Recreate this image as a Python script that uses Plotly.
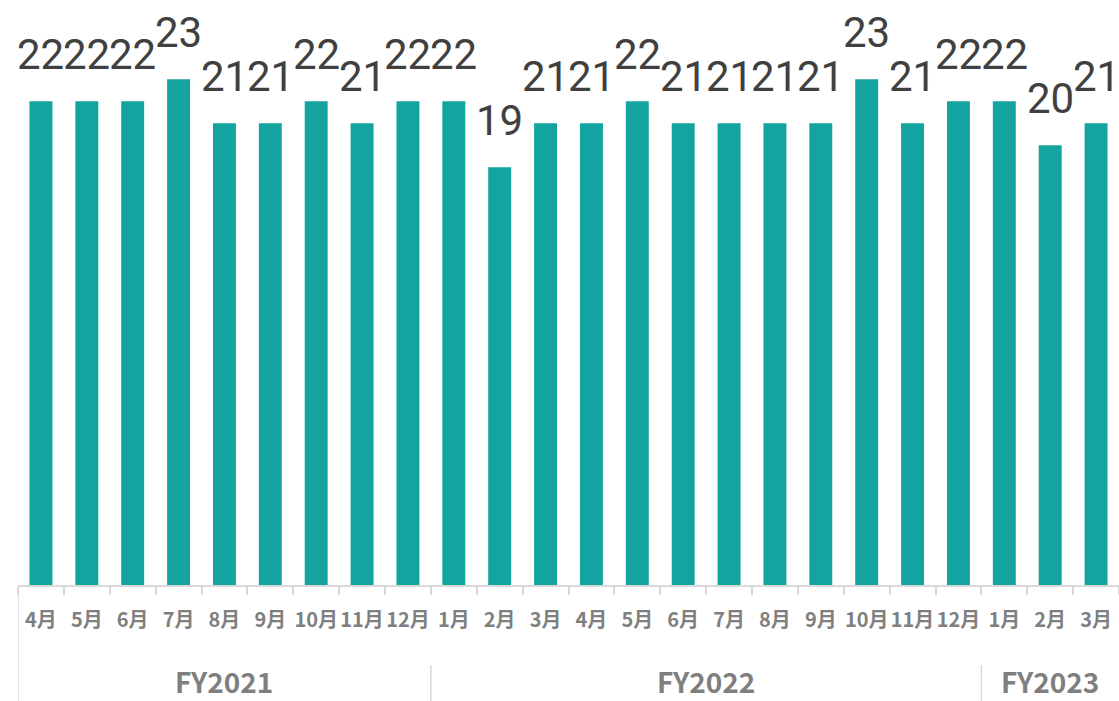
import plotly.graph_objects as go

fiscal_years = ["FY2021"] * 9 + ["FY2022"] * 12 + ["FY2023"] * 3
months = ["4月", "5月", "6月", "7月", "8月", "9月", "10月", "11月", "12月",
          "1月", "2月", "3月", "4月", "5月", "6月", "7月", "8月", "9月", "10月", "11月", "12月",
          "1月", "2月", "3月"]
values = [22, 22, 22, 23, 21, 21, 22, 21, 22, 22, 19, 21, 21, 22, 21, 21, 21, 21, 23, 21, 22, 22, 20, 21]

BAR_COLOR = "#13a49f"
LABEL_COLOR = "#404040"
TICK_COLOR = "#7f7f7f"
LINE_COLOR = "#d9d9d9"

keys = [f"{fy}|{m}" for fy, m in zip(fiscal_years, months)]

fig = go.Figure()
fig.add_trace(go.Bar(
    x=keys,
    y=values,
    marker=dict(color=BAR_COLOR, line=dict(width=0)),
    hoverinfo="skip",
))

# value labels
for k, v in zip(keys, values):
    fig.add_annotation(
        x=k, y=v, xref="x", yref="y",
        text=str(v), showarrow=False,
        yanchor="bottom", yshift=20,
        font=dict(family="Roboto, Liberation Sans, sans-serif", size=42, color=LABEL_COLOR),
    )

# fiscal-year group labels and dividers
PLOT_H = 701 - 116
groups = []
for i, fy in enumerate(fiscal_years):
    if not groups or groups[-1][0] != fy:
        groups.append([fy, i, i])
    else:
        groups[-1][2] = i

for fy, i0, i1 in groups:
    fig.add_annotation(
        x=(i0 + i1) / 2, y=-96 / PLOT_H, xref="x", yref="paper",
        text=f"<b>{fy}</b>", showarrow=False, yanchor="middle",
        height=28, borderpad=0, valign="middle",
        font=dict(family="Noto Sans CJK JP, sans-serif", size=28, color=TICK_COLOR),
    )
    top = 0 if i0 == 0 else -80 / PLOT_H
    fig.add_shape(
        type="line", xref="x", yref="paper",
        x0=i0 - 0.5, x1=i0 - 0.5, y0=top, y1=-116 / PLOT_H,
        line=dict(color=LINE_COLOR, width=1.5),
    )

fig.update_layout(
    width=1119, height=701,
    margin=dict(l=18, r=0, t=0, b=116),
    paper_bgcolor="white",
    plot_bgcolor="white",
    bargap=0.5,
    showlegend=False,
    xaxis=dict(
        type="category",
        range=[-0.5, len(keys) - 0.5],
        tickmode="array", tickvals=keys, ticktext=months, tickangle=0,
        showline=True, linecolor=LINE_COLOR, linewidth=1.5,
        ticks="outside", tickson="boundaries", ticklen=8, tickcolor=LINE_COLOR, tickwidth=1.5,
        ticklabelstandoff=16,
        tickfont=dict(family="Noto Sans CJK JP, sans-serif", size=20, color=TICK_COLOR, weight="bold"),
        showgrid=False,
    ),
    yaxis=dict(range=[0, 26.6], visible=False, showgrid=False, zeroline=False),
)

fig.write_html("out.html", config={"displayModeBar": False},
               post_script="document.body.style.margin='0';")
